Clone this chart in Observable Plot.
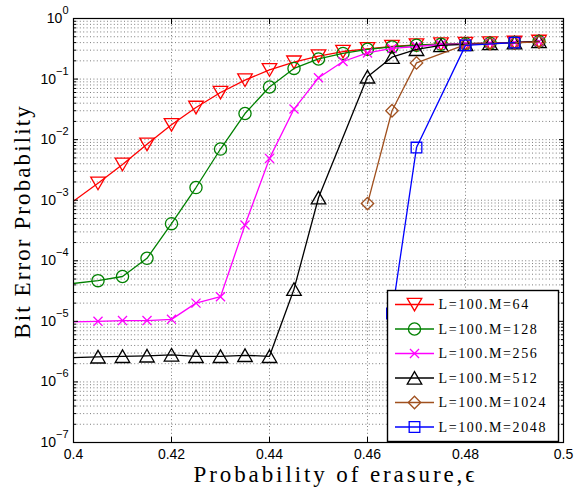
<!DOCTYPE html>
<html>
<head>
<meta charset="utf-8">
<script src="https://cdn.jsdelivr.net/npm/d3@7"></script>
<script src="https://cdn.jsdelivr.net/npm/@observablehq/plot@0.6"></script>
<style>
  body { margin: 0; background: #fff; }
  #chart { position: relative; width: 582px; height: 488px; }
</style>
</head>
<body>
<div id="chart"></div>
<script>
// ---------------- DATA ----------------
const seriesNames = ["L=100.M=64", "L=100.M=128", "L=100.M=256", "L=100.M=512", "L=100.M=1024", "L=100.M=2048"];

const epsM64  = [0.395, 0.405, 0.41, 0.415, 0.42, 0.425, 0.43, 0.435, 0.44, 0.445, 0.45, 0.455, 0.46, 0.465, 0.47, 0.475, 0.48, 0.485, 0.49, 0.495];
const berM64  = [4.9e-4, 1.9e-3, 3.9e-3, 8.4e-3, 1.76e-2, 3.4e-2, 6.0e-2, 9.6e-2, 0.142, 0.19, 0.24, 0.285, 0.315, 0.345, 0.365, 0.378, 0.385, 0.392, 0.402, 0.418];

const epsM128 = [0.395, 0.405, 0.41, 0.415, 0.42, 0.425, 0.43, 0.435, 0.44, 0.445, 0.45, 0.455, 0.46, 0.465, 0.47, 0.475, 0.48, 0.485, 0.49, 0.495];
const berM128 = [3.8e-5, 4.7e-5, 5.5e-5, 1.1e-4, 4.1e-4, 1.62e-3, 7.0e-3, 2.7e-2, 7.4e-2, 0.15, 0.215, 0.265, 0.31, 0.34, 0.362, 0.376, 0.384, 0.391, 0.4, 0.416];

const epsM256 = [0.395, 0.405, 0.41, 0.415, 0.42, 0.425, 0.43, 0.435, 0.44, 0.445, 0.45, 0.455, 0.46, 0.465, 0.47, 0.475, 0.48, 0.485, 0.49, 0.495];
const berM256 = [9.6e-6, 1.0e-5, 1.03e-5, 1.03e-5, 1.08e-5, 2.0e-5, 2.55e-5, 3.9e-4, 4.9e-3, 3.2e-2, 0.105, 0.195, 0.27, 0.32, 0.345, 0.372, 0.382, 0.39, 0.4, 0.415];

const epsM512 = [0.395, 0.405, 0.41, 0.415, 0.42, 0.425, 0.43, 0.435, 0.44, 0.445, 0.45, 0.46, 0.465, 0.47, 0.475, 0.48, 0.485, 0.49, 0.495];
const berM512 = [2.45e-6, 2.6e-6, 2.65e-6, 2.7e-6, 2.8e-6, 2.65e-6, 2.65e-6, 2.75e-6, 2.65e-6, 3.4e-5, 1.1e-3, 0.109, 0.23, 0.31, 0.36, 0.375, 0.388, 0.398, 0.418];

const epsM1024 = [0.46, 0.465, 0.47, 0.48, 0.485, 0.49, 0.495];
const berM1024 = [8.8e-4, 3.0e-2, 0.185, 0.37, 0.385, 0.395, 0.412];

const epsM2048 = [0.465, 0.47, 0.48, 0.49];
const berM2048 = [1.35e-5, 7.4e-3, 0.36, 0.4];

const xTicks = [0.4, 0.42, 0.44, 0.46, 0.48, 0.5];
const xTickLabels = ["0.4", "0.42", "0.44", "0.46", "0.48", "0.5"];
const yTicks = [1e-7, 1e-6, 1e-5, 1e-4, 1e-3, 1e-2, 1e-1, 1];
const yTickExponents = ["-7", "-6", "-5", "-4", "-3", "-2", "-1", "0"];

const xLabel = "Probability of erasure,\u03F5";
const yLabel = "Bit Error Probability";

// ---------------- STYLE ----------------
const seriesColors = ["#ff0000", "#008000", "#ff00ff", "#000000", "#a0501e", "#0000ff"];
const seriesMarkers = [
  {symbol: "triangle", r: 5.4, rotate: 180, dy: -2},
  {symbol: "circle", r: 6.1, rotate: 0, dy: 0},
  {symbol: "times", r: 4.2, rotate: 0, dy: 0},
  {symbol: "triangle", r: 5.4, rotate: 0, dy: 2},
  {symbol: "diamond2", r: 5.6, rotate: 0, dy: 0},
  {symbol: "square", r: 6.0, rotate: 0, dy: 0}
];
const d3Symbols = {triangle: d3.symbolTriangle, circle: d3.symbolCircle, times: d3.symbolTimes, diamond2: d3.symbolDiamond2, square: d3.symbolSquare};
const serifFont = "'Liberation Serif', 'DejaVu Serif', serif";

// ---------------- BUILD ----------------
const seriesEps = [epsM64, epsM128, epsM256, epsM512, epsM1024, epsM2048];
const seriesBer = [berM64, berM128, berM256, berM512, berM1024, berM2048];
const rows = [];
seriesNames.forEach((name, k) => seriesEps[k].forEach((e, i) => rows.push({eps: e, ber: seriesBer[k][i], series: name})));

const minorY = [];
for (let i = 0; i < yTicks.length - 1; i++) for (let m = 2; m <= 9; m++) minorY.push(yTicks[i] * m);
const gridStyle = {stroke: "#6e6e6e", strokeOpacity: 0.9, strokeDasharray: "1,2.4", strokeWidth: 1};

const seriesMarks = [];
seriesNames.forEach((name, k) => {
  const data = rows.filter(d => d.series === name);
  const mk = seriesMarkers[k];
  seriesMarks.push(Plot.line(data, {x: "eps", y: "ber", stroke: seriesColors[k], strokeWidth: 1.3, clip: true}));
  seriesMarks.push(Plot.dot(data, {x: "eps", y: "ber", stroke: seriesColors[k], fill: "none", strokeWidth: 1.3,
    symbol: mk.symbol, r: mk.r, rotate: mk.rotate, dy: mk.dy, clip: true}));
});

const svg = Plot.plot({
  width: 582,
  height: 488,
  marginLeft: 73,
  marginRight: 19,
  marginTop: 18,
  marginBottom: 46,
  style: {fontFamily: "'Liberation Sans', Arial, sans-serif", fontSize: "14px", background: "white", color: "black"},
  x: {domain: [0.4, 0.5], label: null},
  y: {type: "log", domain: [1e-7, 1], label: null},
  marks: [
    Plot.gridX(xTicks.slice(1, -1), gridStyle),
    Plot.gridY(yTicks.slice(1, -1), gridStyle),
    Plot.gridY(minorY, gridStyle),
    ...seriesMarks,
    Plot.frame({stroke: "black", strokeWidth: 1.2}),
    Plot.axisX(xTicks, {anchor: "bottom", tickSize: -5, tickPadding: 11.6, label: null, fontSize: 14,
      tickFormat: d => xTickLabels[xTicks.indexOf(d)]}),
    Plot.axisX(xTicks, {anchor: "top", tickSize: -5, fill: "none", label: null}),
    Plot.axisY(yTicks, {anchor: "left", tickSize: -5, tickPadding: 10, label: null, fontSize: 14,
      tickFormat: d => "10^" + yTickExponents[yTicks.indexOf(d)]}),
    Plot.axisY(yTicks, {anchor: "right", tickSize: -5, fill: "none", label: null}),
    Plot.axisY(minorY, {anchor: "left", tickSize: -3, fill: "none", label: null}),
    Plot.axisY(minorY, {anchor: "right", tickSize: -3, fill: "none", label: null}),
    Plot.text([xLabel], {frameAnchor: "bottom", textAnchor: "middle", lineAnchor: "middle", dy: 32.6, dx: 17,
      text: d => d, fontSize: 23, fontFamily: serifFont}),
    Plot.text([yLabel], {frameAnchor: "left", textAnchor: "middle", lineAnchor: "middle", rotate: -90, dx: -50.8, dy: -9,
      text: d => d, fontSize: 23, fontFamily: serifFont})
  ]
});

document.getElementById("chart").appendChild(svg);

const root = d3.select(svg);
root.selectAll("text").each(function () {
  if (this.textContent === xLabel) d3.select(this).style("letter-spacing", "2.9px");
  if (this.textContent === yLabel) d3.select(this).style("letter-spacing", "2.1px");
});

// superscript exponents for the y tick labels
root.selectAll('g[aria-label="y-axis tick label"] text').each(function () {
  const parts = this.textContent.split("^");
  this.textContent = "";
  const t = d3.select(this);
  t.append("tspan").text(parts[0]);
  t.append("tspan").attr("dy", "-9px").attr("font-size", "11px").text(parts[1].replace("-", "\u2212"));
});

// legend (inside the plot, lower right)
const lg = root.append("g").attr("transform", "translate(387.5,290.5)");
lg.append("rect").attr("width", 171).attr("height", 151).attr("fill", "white").attr("stroke", "black").attr("stroke-width", 1.4);
seriesNames.forEach((name, k) => {
  const cy = 14 + 24.5 * k;
  const mk = seriesMarkers[k];
  lg.append("line").attr("x1", 7.5).attr("x2", 46.5).attr("y1", cy).attr("y2", cy)
    .attr("stroke", seriesColors[k]).attr("stroke-width", 1.3);
  lg.append("path").attr("d", d3.symbol(d3Symbols[mk.symbol], Math.PI * mk.r * mk.r)())
    .attr("transform", `translate(27,${cy + mk.dy}) rotate(${mk.rotate})`)
    .attr("fill", "none").attr("stroke", seriesColors[k]).attr("stroke-width", 1.3);
  lg.append("text").attr("x", 51).attr("y", cy).attr("dy", "0.35em").attr("text-anchor", "start")
    .attr("font-family", serifFont).attr("font-size", 14)
    .style("letter-spacing", "1.6px").attr("fill", "black").text(name);
});
</script>
</body>
</html>
